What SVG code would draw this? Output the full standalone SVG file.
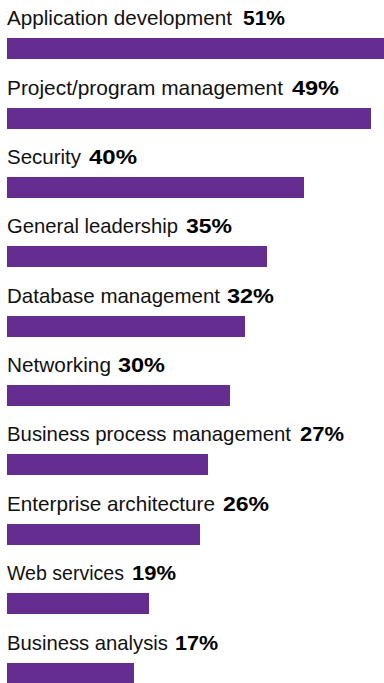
<svg xmlns="http://www.w3.org/2000/svg" width="384" height="683" viewBox="0 0 384 683">
<style>
.lbl{font-family:"Liberation Sans",Arial,sans-serif;font-size:21px;fill:#111;}
.pct{font-family:"Liberation Sans",Arial,sans-serif;font-size:21px;font-weight:bold;fill:#000;}
.bar{fill:#652D8F;}
</style>
<rect width="384" height="683" fill="#fff"/>
<g id="bar-application-development">
<text class="lbl" x="7" y="25" textLength="225" lengthAdjust="spacingAndGlyphs">Application development</text>
<text class="pct" x="243" y="25" textLength="42" lengthAdjust="spacingAndGlyphs">51%</text>
<rect class="bar" x="7" y="38" width="377" height="21"/>
</g>
<g id="bar-project-program-management">
<text class="lbl" x="7" y="95" textLength="276" lengthAdjust="spacingAndGlyphs">Project/program management</text>
<text class="pct" x="292" y="95" textLength="47" lengthAdjust="spacingAndGlyphs">49%</text>
<rect class="bar" x="7" y="108" width="364" height="21"/>
</g>
<g id="bar-security">
<text class="lbl" x="7" y="164" textLength="74" lengthAdjust="spacingAndGlyphs">Security</text>
<text class="pct" x="89" y="164" textLength="48" lengthAdjust="spacingAndGlyphs">40%</text>
<rect class="bar" x="7" y="177" width="297" height="21"/>
</g>
<g id="bar-general-leadership">
<text class="lbl" x="7" y="233" textLength="171" lengthAdjust="spacingAndGlyphs">General leadership</text>
<text class="pct" x="186" y="233" textLength="46" lengthAdjust="spacingAndGlyphs">35%</text>
<rect class="bar" x="7" y="246" width="260" height="21"/>
</g>
<g id="bar-database-management">
<text class="lbl" x="7" y="303" textLength="213" lengthAdjust="spacingAndGlyphs">Database management</text>
<text class="pct" x="227" y="303" textLength="47" lengthAdjust="spacingAndGlyphs">32%</text>
<rect class="bar" x="7" y="316" width="238" height="21"/>
</g>
<g id="bar-networking">
<text class="lbl" x="7" y="372" textLength="104" lengthAdjust="spacingAndGlyphs">Networking</text>
<text class="pct" x="118" y="372" textLength="47" lengthAdjust="spacingAndGlyphs">30%</text>
<rect class="bar" x="7" y="385" width="223" height="21"/>
</g>
<g id="bar-business-process-management">
<text class="lbl" x="7" y="441" textLength="284" lengthAdjust="spacingAndGlyphs">Business process management</text>
<text class="pct" x="300" y="441" textLength="44" lengthAdjust="spacingAndGlyphs">27%</text>
<rect class="bar" x="7" y="454" width="201" height="21"/>
</g>
<g id="bar-enterprise-architecture">
<text class="lbl" x="7" y="511" textLength="208" lengthAdjust="spacingAndGlyphs">Enterprise architecture</text>
<text class="pct" x="223" y="511" textLength="46" lengthAdjust="spacingAndGlyphs">26%</text>
<rect class="bar" x="7" y="524" width="193" height="21"/>
</g>
<g id="bar-web-services">
<text class="lbl" x="7" y="580" textLength="117" lengthAdjust="spacingAndGlyphs">Web services</text>
<text class="pct" x="132" y="580" textLength="44" lengthAdjust="spacingAndGlyphs">19%</text>
<rect class="bar" x="7" y="593" width="142" height="21"/>
</g>
<g id="bar-business-analysis">
<text class="lbl" x="7" y="650" textLength="161" lengthAdjust="spacingAndGlyphs">Business analysis</text>
<text class="pct" x="175" y="650" textLength="43" lengthAdjust="spacingAndGlyphs">17%</text>
<rect class="bar" x="7" y="663" width="127" height="21"/>
</g>
<g id="connectors"></g>
</svg>
